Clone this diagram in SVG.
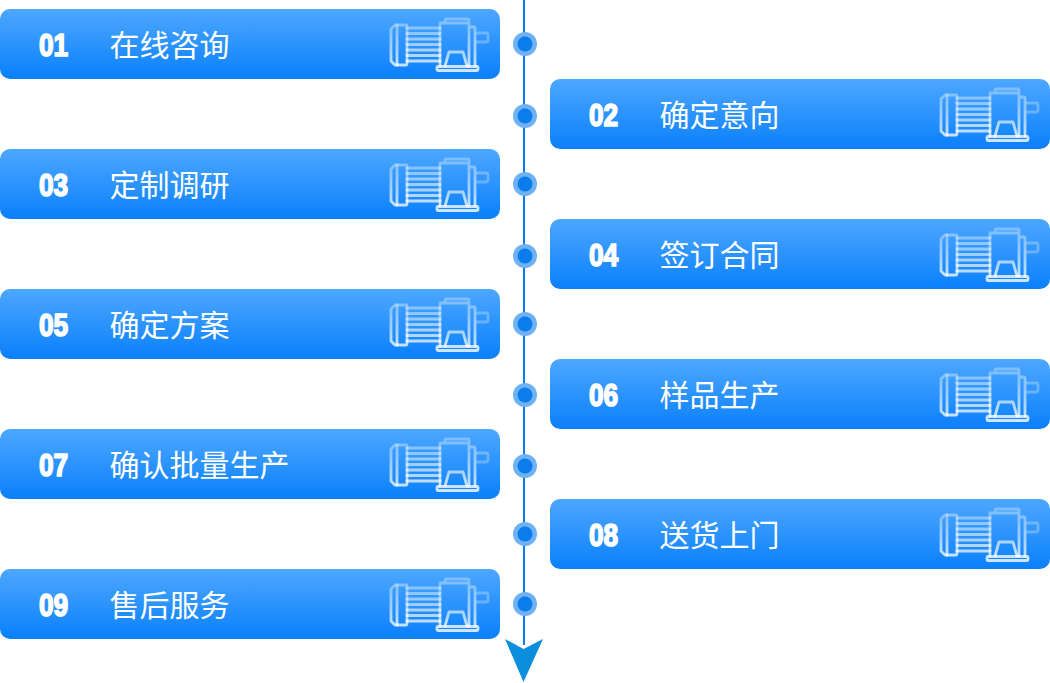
<svg xmlns="http://www.w3.org/2000/svg" width="1050" height="683" viewBox="0 0 1050 683">
<style>
.card{fill:url(#cg)}
.num{font-family:"Liberation Sans",sans-serif;font-weight:700;font-size:32px;fill:#fff;stroke:#fff;stroke-width:1.700}
.lbl{font-family:"Noto Sans CJK SC",sans-serif;font-size:30px;fill:#fff}
.halo{fill:#6eb1f5}.core{fill:#0a7cec}
.ic{fill:none;stroke:url(#ig);stroke-width:2.800;stroke-linejoin:round;stroke-linecap:round}
.sh{fill:none;stroke:#fff;stroke-opacity:.28;stroke-width:2.800;stroke-linejoin:round}
</style>
<defs>
<linearGradient id="cg" x1="0" y1="0" x2="0" y2="1"><stop offset="0" stop-color="#4da7ff"/><stop offset="1" stop-color="#0a80fb"/></linearGradient>
<linearGradient id="ig" gradientUnits="userSpaceOnUse" x1="0" y1="19" x2="0" y2="71"><stop offset="0" stop-color="#fff" stop-opacity=".3"/><stop offset="1" stop-color="#fff" stop-opacity=".8"/></linearGradient>
<g id="motor">
<path class="ic" d="M395 25h11q1 0 1 1v38q0 1-1 1h-11l-4-4V29z"/>
<path class="ic" d="M397 25v40"/>
<path class="ic" d="M407 28h33M407 33.500h33M407 39h33M407 44.500h33M407 50h33M407 55.500h33M407 61h33"/>
<path class="ic" d="M440 66V23h29v43M445 23v-3q0-1 1-1h22q1 0 1 1v3M469 27h5q1 0 1 1v38"/>
<path class="sh" d="M476 33h10q2 0 2 2v5q0 2-2 2h-10"/>
<path class="ic" d="M438 66.500h39q1 0 1 1v2q0 1-1 1h-39q-1 0-1-1v-2q0-1 1-1z"/>
<path class="ic" d="M445 66l4-14h14l4 14"/>
</g>
</defs>
<g id="connectors">
<path d="M524 0V645" stroke="#0a7cec" stroke-width="2" fill="none"/>
<path d="M505 639L523.500 649L543 639L523.500 682z" fill="#0b8fdd"/>
</g>
<g id="dots">
<g id="dot1"><circle class="halo" cx="525" cy="44" r="12"/><circle class="core" cx="525" cy="44" r="7.500"/></g>
<g id="dot2"><circle class="halo" cx="525" cy="116" r="12"/><circle class="core" cx="525" cy="116" r="7.500"/></g>
<g id="dot3"><circle class="halo" cx="525" cy="184" r="12"/><circle class="core" cx="525" cy="184" r="7.500"/></g>
<g id="dot4"><circle class="halo" cx="525" cy="256" r="12"/><circle class="core" cx="525" cy="256" r="7.500"/></g>
<g id="dot5"><circle class="halo" cx="525" cy="324" r="12"/><circle class="core" cx="525" cy="324" r="7.500"/></g>
<g id="dot6"><circle class="halo" cx="525" cy="395" r="12"/><circle class="core" cx="525" cy="395" r="7.500"/></g>
<g id="dot7"><circle class="halo" cx="525" cy="466" r="12"/><circle class="core" cx="525" cy="466" r="7.500"/></g>
<g id="dot8"><circle class="halo" cx="525" cy="534" r="12"/><circle class="core" cx="525" cy="534" r="7.500"/></g>
<g id="dot9"><circle class="halo" cx="525" cy="604" r="12"/><circle class="core" cx="525" cy="604" r="7.500"/></g>
</g>
<g id="step01" transform="translate(0,9)"><rect class="card" width="500" height="70" rx="10"/><text class="num" transform="translate(39,46.500) scale(.82,1)">01</text><text class="lbl" x="109.500" y="46.500">在线咨询</text><use href="#motor" y="-9"/></g>
<g id="step02" transform="translate(550,79)"><rect class="card" width="500" height="70" rx="10"/><text class="num" transform="translate(39,46.500) scale(.82,1)">02</text><text class="lbl" x="109.500" y="46.500">确定意向</text><use href="#motor" y="-9"/></g>
<g id="step03" transform="translate(0,149)"><rect class="card" width="500" height="70" rx="10"/><text class="num" transform="translate(39,46.500) scale(.82,1)">03</text><text class="lbl" x="109.500" y="46.500">定制调研</text><use href="#motor" y="-9"/></g>
<g id="step04" transform="translate(550,219)"><rect class="card" width="500" height="70" rx="10"/><text class="num" transform="translate(39,46.500) scale(.82,1)">04</text><text class="lbl" x="109.500" y="46.500">签订合同</text><use href="#motor" y="-9"/></g>
<g id="step05" transform="translate(0,289)"><rect class="card" width="500" height="70" rx="10"/><text class="num" transform="translate(39,46.500) scale(.82,1)">05</text><text class="lbl" x="109.500" y="46.500">确定方案</text><use href="#motor" y="-9"/></g>
<g id="step06" transform="translate(550,359)"><rect class="card" width="500" height="70" rx="10"/><text class="num" transform="translate(39,46.500) scale(.82,1)">06</text><text class="lbl" x="109.500" y="46.500">样品生产</text><use href="#motor" y="-9"/></g>
<g id="step07" transform="translate(0,429)"><rect class="card" width="500" height="70" rx="10"/><text class="num" transform="translate(39,46.500) scale(.82,1)">07</text><text class="lbl" x="109.500" y="46.500">确认批量生产</text><use href="#motor" y="-9"/></g>
<g id="step08" transform="translate(550,499)"><rect class="card" width="500" height="70" rx="10"/><text class="num" transform="translate(39,46.500) scale(.82,1)">08</text><text class="lbl" x="109.500" y="46.500">送货上门</text><use href="#motor" y="-9"/></g>
<g id="step09" transform="translate(0,569)"><rect class="card" width="500" height="70" rx="10"/><text class="num" transform="translate(39,46.500) scale(.82,1)">09</text><text class="lbl" x="109.500" y="46.500">售后服务</text><use href="#motor" y="-9"/></g>
</svg>
